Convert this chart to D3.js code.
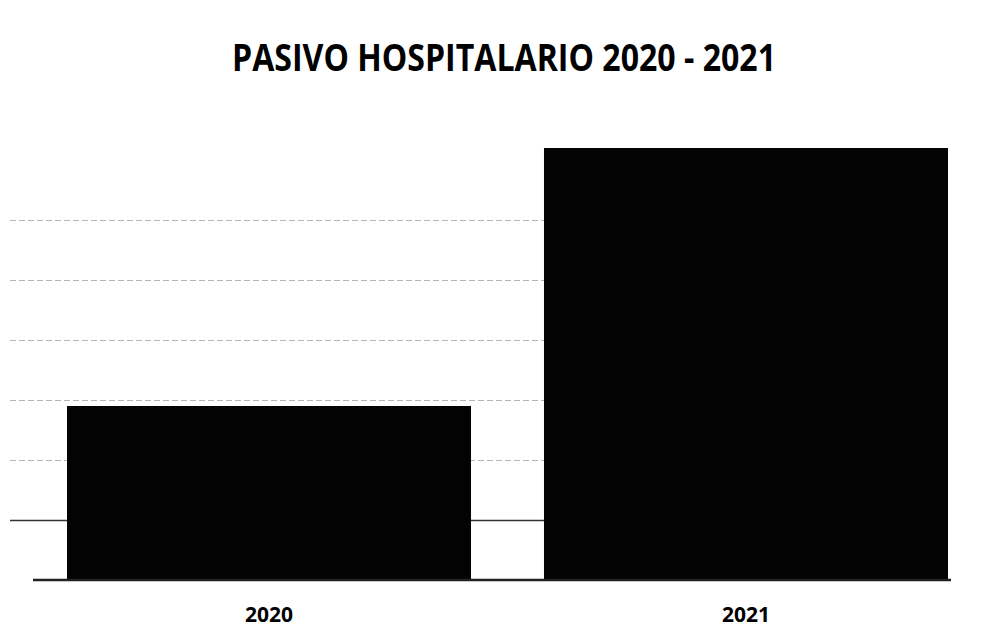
<!DOCTYPE html>
<html>
<head>
<meta charset="utf-8">
<script src="https://cdn.jsdelivr.net/npm/d3@7"></script>
<style>
	html, body { margin: 0; padding: 0; background: #fff; }
	svg { display: block; }
</style>
</head>
<body>
<div id="chart"></div>
<script>
// chart data (no axis values printed, read as multiples of gridline steps)
var years = ['2020', '2021'];
var values = [2.9, 7.2];
var gridTicks = [1, 2, 3, 4, 5, 6];
var title = 'PASIVO HOSPITALARIO 2020 - 2021';

var width = 995;
var height = 638;

// plot area
var offsetLeft = 67;
var offsetRight = 47;
var offsetTop = 148;
var offsetBottom = 58;
var zeroLineY = height - offsetBottom;

var svg = d3.select('#chart')
	.append('svg')
	.attr('width', width)
	.attr('height', height);

var x = d3.scaleBand()
	.domain(years)
	.range([offsetLeft, width - offsetRight])
	.paddingInner(0.153)
	.paddingOuter(0);

var y = d3.scaleLinear()
	.domain([0, d3.max(values)])
	.range([zeroLineY, offsetTop]);

// gridlines
svg.append('g')
	.selectAll('line')
	.data(gridTicks)
	.enter()
	.append('line')
	.attr('x1', 10)
	.attr('x2', width - offsetRight)
	.attr('y1', function(d) { return Math.round(y(d)) + 0.5; })
	.attr('y2', function(d) { return Math.round(y(d)) + 0.5; })
	.attr('stroke', function(d) { return d === 1 ? '#333' : '#b4b4b4'; })
	.attr('stroke-width', function(d) { return d === 1 ? 1.5 : 1; })
	.attr('stroke-dasharray', function(d) { return d === 1 ? null : '6,3'; });

// bars
svg.append('g')
	.selectAll('rect')
	.data(values)
	.enter()
	.append('rect')
	.attr('x', function(d, i) { return x(years[i]); })
	.attr('y', function(d) { return y(d); })
	.attr('width', x.bandwidth())
	.attr('height', function(d) { return zeroLineY - y(d); })
	.attr('fill', '#030303');

// baseline
svg.append('line')
	.attr('x1', 33)
	.attr('x2', width - offsetRight + 3)
	.attr('y1', zeroLineY)
	.attr('y2', zeroLineY)
	.attr('stroke', '#222')
	.attr('stroke-width', 2.5);

// category labels
var xAxis = d3.axisBottom(x).tickSize(0).tickPadding(0);
var axisG = svg.append('g')
	.attr('transform', 'translate(0,' + (zeroLineY + 42) + ')')
	.call(xAxis);
axisG.select('.domain').remove();
axisG.selectAll('text')
	.attr('dy', 0)
	.attr('fill', '#000')
	.attr('font-family', '"Open Sans", sans-serif')
	.attr('font-weight', 'bold')
	.attr('font-size', 21);

// title
svg.append('text')
	.attr('x', 504)
	.attr('y', 71)
	.attr('text-anchor', 'middle')
	.attr('font-family', '"Open Sans", sans-serif')
	.attr('font-weight', 'bold')
	.attr('font-size', 38)
	.attr('textLength', 544)
	.attr('lengthAdjust', 'spacingAndGlyphs')
	.attr('fill', '#000')
	.text(title);
</script>
</body>
</html>
